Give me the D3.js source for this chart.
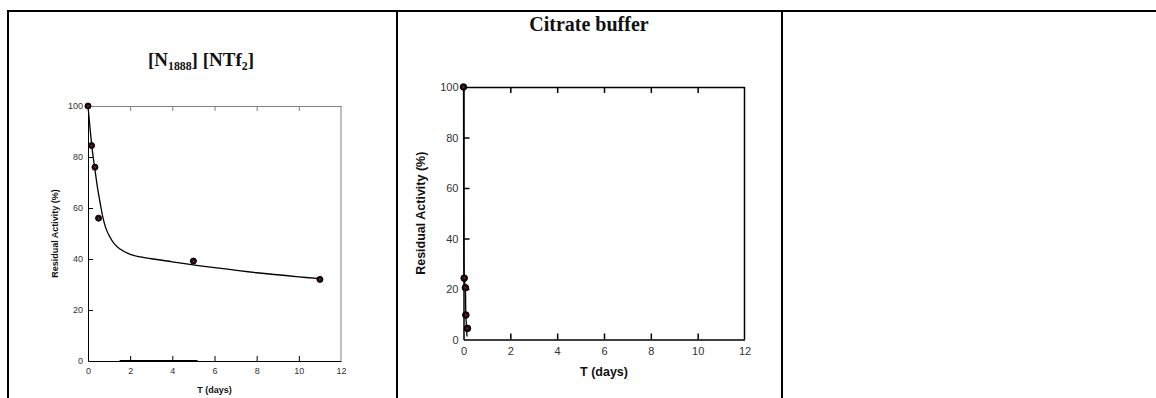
<!DOCTYPE html>
<html>
<head>
<meta charset="utf-8">
<script src="https://cdn.jsdelivr.net/npm/d3@7"></script>
<style>
  body { margin: 0; background: #fff; }
  svg { display: block; }
  .tick text { font-family: Arial, "Liberation Sans", sans-serif; fill: #333; }
</style>
</head>
<body>
<div id="chart"></div>
<script>
// x ticks and y ticks shared by both panels
var xTicks = [0, 2, 4, 6, 8, 10, 12],
    yTicks = [0, 20, 40, 60, 80, 100];

// [N1888][NTf2] - measured points and fitted curve
var ilDays = [0, 0.17, 0.33, 0.5, 5, 11],
    ilActivity = [100, 84.5, 76, 56, 39.2, 32];
var ilFitDays = [0, 0.1, 0.2, 0.33, 0.45, 0.62, 0.7, 0.85, 1, 1.25, 1.5, 2, 2.5, 3, 4, 5, 6, 8, 10, 11],
    ilFitActivity = [100, 91, 83, 75, 68, 60, 56.5, 52, 49.2, 45.9, 44, 41.8, 40.8, 40.1, 38.9, 37.7, 36.6, 34.6, 33, 32.3];
var ilBaseSegment = [1.5, 5.2];

// Citrate buffer - measured points and fitted curve
var cbDays = [0, 0.03, 0.08, 0.1, 0.17],
    cbActivity = [100, 24.3, 20.5, 9.7, 4.4];
var cbFitDays = [0, 0.005, 0.01, 0.03, 0.08, 0.1, 0.15],
    cbFitActivity = [100, 70, 40, 25, 20, 10, 1.2];

var W = 1156, H = 398;
var svg = d3.select("#chart").append("svg").attr("width", W).attr("height", H);

// table borders
var border = svg.append("g").attr("stroke", "#000").attr("stroke-width", 2).attr("fill", "none");
border.append("line").attr("x1", 7).attr("x2", W).attr("y1", 11).attr("y2", 11);
[8, 397, 782].forEach(function(x) {
  border.append("line").attr("x1", x).attr("x2", x).attr("y1", 10).attr("y2", H);
});

function panel(o) {
  var x = d3.scaleLinear().domain([0, 12]).range([o.left, o.right]),
      y = d3.scaleLinear().domain([0, 100]).range([o.bottom, o.top]);
  var g = svg.append("g");

  // top + right frame
  var top = g.append("g").attr("transform", "translate(0," + o.top + ")")
    .call(d3.axisTop(x).tickValues(xTicks.slice(1, -1)).tickSize(-o.tick).tickSizeOuter(0).tickFormat(""));
  top.selectAll("path, line").attr("stroke", o.frame).attr("stroke-width", o.sw);
  g.append("line").attr("x1", o.right).attr("x2", o.right).attr("y1", o.top).attr("y2", o.bottom)
    .attr("stroke", o.frame).attr("stroke-width", o.sw);

  var xa = g.append("g").attr("transform", "translate(0," + o.bottom + ")")
    .call(d3.axisBottom(x).tickValues(xTicks).tickSize(-o.tick).tickSizeOuter(0).tickPadding(o.xpad));
  var ya = g.append("g").attr("transform", "translate(" + o.left + ",0)")
    .call(d3.axisLeft(y).tickValues(yTicks).tickSize(-o.tick).tickSizeOuter(0).tickPadding(o.ypad));
  [xa, ya].forEach(function(a) {
    a.selectAll("path, line").attr("stroke", "#000").attr("stroke-width", o.sw);
    a.selectAll("text").style("font-size", o.tickFont + "px");
  });
  xa.selectAll(".tick line").filter(function(d) { return d === 0 || d === 12; }).remove();
  ya.selectAll(".tick line").filter(function(d) { return d === 0 || d === 100; }).remove();

  if (o.segment) {
    g.append("line").attr("x1", x(o.segment[0])).attr("x2", x(o.segment[1]))
      .attr("y1", y(0)).attr("y2", y(0)).attr("stroke", "#000").attr("stroke-width", 2);
  }

  var line = d3.line().curve(d3.curveCatmullRom.alpha(0.5))
    .x(function(d) { return x(d[0]); })
    .y(function(d) { return y(d[1]); });
  g.append("path").datum(d3.zip(o.fitX, o.fitY))
    .attr("d", line).attr("fill", "none").attr("stroke", "#000").attr("stroke-width", 1.3);

  var pts = g.selectAll(".pt").data(d3.zip(o.px, o.py)).enter().append("g")
    .attr("transform", function(d) { return "translate(" + x(d[0]) + "," + y(d[1]) + ")"; });
  pts.append("circle").attr("r", o.r).attr("fill", "#111").attr("stroke", "#000");
  pts.append("circle").attr("r", 0.9).attr("fill", "#e00000");

  // titles
  g.append("text").attr("x", (o.left + o.right) / 2).attr("y", o.xTitleY)
    .attr("text-anchor", "middle").attr("font-family", "Arial, 'Liberation Sans', sans-serif")
    .attr("font-weight", "bold").attr("font-size", o.axisFont).attr("fill", "#111").text("T (days)");
  g.append("text")
    .attr("transform", "translate(" + o.yTitleX + "," + ((o.top + o.bottom) / 2) + ") rotate(-90)")
    .attr("text-anchor", "middle").attr("font-family", "Arial, 'Liberation Sans', sans-serif")
    .attr("font-weight", "bold").attr("font-size", o.axisFont).attr("fill", "#111").text("Residual Activity (%)");

  var t = g.append("text").attr("x", o.titleX).attr("y", o.titleY).attr("text-anchor", "middle")
    .attr("font-family", "'Liberation Serif', 'Times New Roman', serif").attr("font-weight", "bold")
    .attr("font-size", o.titleFont).attr("fill", "#111");
  o.title.forEach(function(p) {
    var s = t.append("tspan").text(p.t);
    if (p.sub) s.attr("font-size", o.titleFont * 0.62).attr("dy", 4);
    else if (p.back) s.attr("dy", -4);
  });
}

panel({
  left: 88, right: 341, top: 106, bottom: 361, tick: 5, sw: 1, frame: "#808080",
  xpad: 7, ypad: 5, tickFont: 9, axisFont: 9, xTitleY: 393, yTitleX: 58,
  fitX: ilFitDays, fitY: ilFitActivity, px: ilDays, py: ilActivity, r: 3, segment: ilBaseSegment,
  titleX: 201, titleY: 66, titleFont: 19,
  title: [{t: "[N"}, {t: "1888", sub: true}, {t: "] [NTf", back: true}, {t: "2", sub: true}, {t: "]", back: true}]
});

panel({
  left: 463.5, right: 744.5, top: 87, bottom: 339.5, tick: 6, sw: 1.5, frame: "#000",
  xpad: 8, ypad: 5, tickFont: 11, axisFont: 12.5, xTitleY: 376, yTitleX: 425,
  fitX: cbFitDays, fitY: cbFitActivity, px: cbDays, py: cbActivity, r: 3.3,
  titleX: 589, titleY: 31, titleFont: 20,
  title: [{t: "Citrate buffer"}]
});
</script>
</body>
</html>
